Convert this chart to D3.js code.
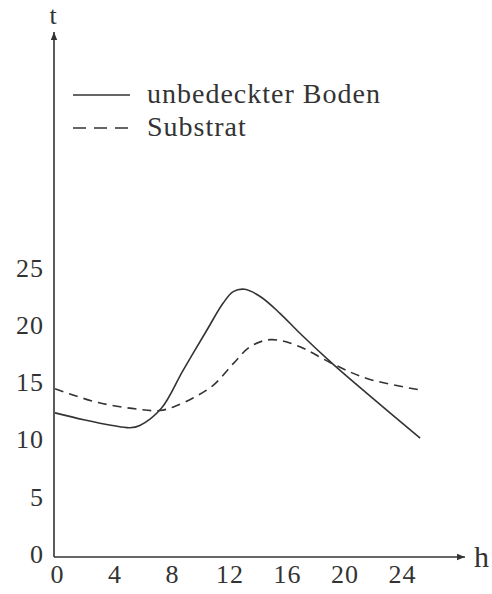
<!DOCTYPE html>
<meta charset="utf-8">
<head>
<style>
body { margin: 0; background: #fff; }
.curve { fill: none; stroke: #333; stroke-width: 1.6; }
</style>
</head>
<body>
<svg id="plot" width="492" height="594"></svg>
<script src="https://cdn.jsdelivr.net/npm/d3@7"></script>
<script>

// hours / temperature
var hoursSolid = [0, 2, 4, 5.2, 5.9, 7.4, 8.9, 10.55, 11.7, 12.4, 13.2, 14.3, 15.65, 17, 19.3, 21.7, 25.4];
var tempSolid  = [12.6, 12.0, 11.5, 11.3, 11.5, 13.0, 16.3, 19.8, 22.2, 23.2, 23.4, 22.75, 21.3, 19.6, 16.9, 14.3, 10.4];

var hoursSub = [0, 3, 5.9, 7.3, 8.2, 9.6, 11, 12.4, 13.6, 15, 16.8, 19.3, 21.7, 25.4];
var tempSub  = [14.7, 13.5, 12.9, 12.8, 13.1, 13.9, 15.0, 16.9, 18.4, 19.0, 18.5, 16.9, 15.6, 14.6];

var xTicks = [0, 4, 8, 12, 16, 20, 24];
var yTicks = [0, 5, 10, 15, 20, 25];

var legendItems = ["unbedeckter Boden", "Substrat"];

var svg = d3.select("svg");
var serif = "'Liberation Serif', serif";
var ink = "#333";

var x = d3.scaleLinear().domain([0, 24]).range([55, 400]);
var y = d3.scaleLinear().domain([0, 25]).range([557, 271]);

// arrow marker
svg.append("defs").append("marker")
    .attr("id", "arr")
    .attr("viewBox", "0 0 10 10")
    .attr("refX", 10).attr("refY", 5)
    .attr("markerWidth", 12).attr("markerHeight", 8)
    .attr("markerUnits", "userSpaceOnUse")
    .attr("orient", "auto")
  .append("path")
    .attr("d", "M0,1 L10,5 L0,9 Z")
    .attr("fill", ink);

// axes lines with arrows
svg.append("line")
    .attr("x1", 54).attr("y1", y(0))
    .attr("x2", 465).attr("y2", y(0))
    .attr("stroke", ink).attr("stroke-width", 1.6)
    .attr("marker-end", "url(#arr)");

svg.append("line")
    .attr("x1", 54).attr("y1", y(0))
    .attr("x2", 54).attr("y2", 32)
    .attr("stroke", ink).attr("stroke-width", 1.6)
    .attr("marker-end", "url(#arr)");

// tick labels, no tick marks
var xAxis = svg.append("g")
    .attr("transform", "translate(2," + (y(0) + 2) + ")")
    .call(d3.axisBottom(x).tickValues(xTicks).tickSize(0).tickPadding(6));
xAxis.select(".domain").remove();

var yAxis = svg.append("g")
    .attr("transform", "translate(54,-3)")
    .call(d3.axisLeft(y).tickValues(yTicks).tickSize(0).tickPadding(10));
yAxis.select(".domain").remove();

svg.selectAll(".tick text")
    .attr("fill", ink)
    .style("font-family", serif)
    .style("font-size", "26px")
    .style("letter-spacing", "1px");

// axis names
svg.append("text").attr("x", 53).attr("y", 24)
    .attr("text-anchor", "middle").attr("fill", ink)
    .style("font-family", serif).style("font-size", "26px").text("t");
svg.append("text").attr("x", 474).attr("y", 567).attr("fill", ink)
    .style("font-family", serif).style("font-size", "30px").text("h");

// curves
var line = d3.line()
    .x(function(d){ return x(d[0]); })
    .y(function(d){ return y(d[1]); })
    .curve(d3.curveCatmullRom.alpha(0.5));

svg.append("path")
    .attr("class", "curve")
    .attr("d", line(d3.zip(hoursSolid, tempSolid)));

svg.append("path")
    .attr("class", "curve")
    .attr("stroke-dasharray", "9,6")
    .attr("d", line(d3.zip(hoursSub, tempSub)));

// legend
var leg = svg.append("g");
legendItems.forEach(function(name, i){
  var yy = 95 + i * 33;
  leg.append("line")
      .attr("x1", 73).attr("x2", 130)
      .attr("y1", yy).attr("y2", yy)
      .attr("stroke", ink).attr("stroke-width", 1.6)
      .attr("stroke-dasharray", i == 1 ? "13,8" : null);
  leg.append("text")
      .attr("x", 147).attr("y", yy + 8)
      .attr("fill", ink)
      .style("font-family", serif)
      .style("font-size", "28px")
      .style("letter-spacing", "1px")
      .text(name);
});

</script>
</body>
